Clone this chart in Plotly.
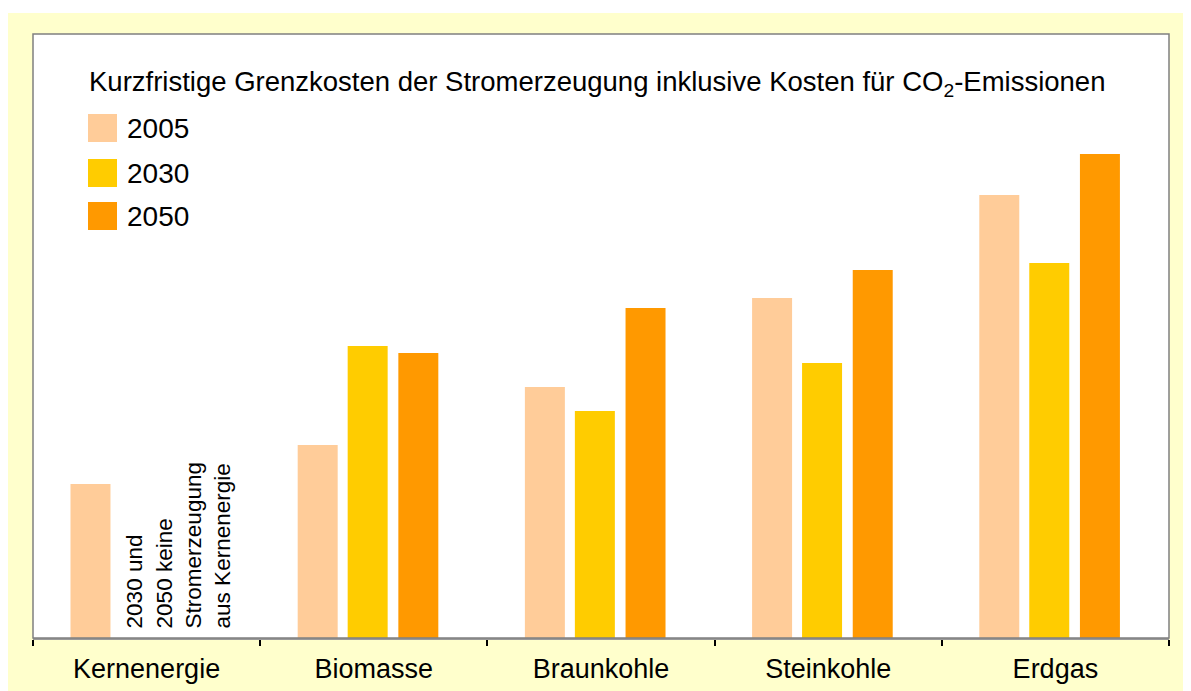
import plotly.graph_objects as go

categories = ["Kernenergie", "Biomasse", "Braunkohle", "Steinkohle", "Erdgas"]
years = ["2005", "2030", "2050"]
values_2005 = [15.4, 19.3, 25.1, 34.0, 44.3]
values_2030 = [None, 29.2, 22.7, 27.5, 37.5]
values_2050 = [None, 28.5, 33.0, 36.8, 48.4]
colors = ["#FFCC99", "#FFCC00", "#FF9900"]
title_text = "Kurzfristige Grenzkosten der Stromerzeugung inklusive Kosten für CO<sub>2</sub>-Emissionen"
note_text = "2030 und<br>2050 keine<br>Stromerzeugung<br>aus Kernenergie"

W, H = 1191, 691
OFF = 8  # page body margin
L, R, T, B = 33 - OFF, W - (1169 - OFF), 34 - OFF, H - (638 - OFF)
FONT = "Liberation Sans, Arial, sans-serif"

fig = go.Figure()
series = [values_2005, values_2030, values_2050]
offsets = [-0.335, -0.115, 0.108]
for yr, vals, col, off in zip(years, series, colors, offsets):
    fig.add_trace(go.Bar(x=categories, y=vals, name=yr, marker_color=col,
                         marker_line_width=0, width=0.176, offset=off,
                         showlegend=False))

pw = W - L - R
ph = H - T - B
def px(x):
    return (x - OFF - L) / pw
def py(y):
    return (H - B - (y - OFF)) / ph

shapes = []
# white strip above the yellow background
shapes.append(dict(type="rect", xref="paper", yref="paper", x0=px(0), x1=px(W + 20), y0=py(13), y1=py(0),
                   fillcolor="white", line_width=0, layer="below"))
# plot frame
shapes.append(dict(type="rect", xref="paper", yref="paper", x0=0, x1=1, y0=0, y1=1,
                   line=dict(color="#808080", width=1.5), fillcolor="rgba(0,0,0,0)", layer="above"))

annotations = [dict(text=title_text, xref="paper", yref="paper", x=px(87), y=py(84),
                    xanchor="left", yanchor="middle", showarrow=False,
                    font=dict(family=FONT, size=27.5, color="black"))]

leg_y = [128, 173, 216]
for yr, col, yc in zip(years, colors, leg_y):
    shapes.append(dict(type="rect", xref="paper", yref="paper", x0=px(88), x1=px(117),
                       y0=py(yc + 14), y1=py(yc - 14), fillcolor=col, line_width=0))
    annotations.append(dict(text=yr, xref="paper", yref="paper", x=px(125), y=py(yc),
                            xanchor="left", yanchor="middle", showarrow=False,
                            font=dict(family=FONT, size=28, color="black")))

annotations.append(dict(text=note_text, xref="x", yref="y", x=0.140, y=0.8,
                        xanchor="center", yanchor="bottom", textangle=-90, align="left",
                        showarrow=False, font=dict(family=FONT, size=22.5, color="black")))

fig.update_layout(
    width=W, height=H,
    margin=dict(l=L, r=R, t=T, b=B, pad=0),
    paper_bgcolor="#FFFFCC", plot_bgcolor="white",
    barmode="group",
    shapes=shapes, annotations=annotations,
    xaxis=dict(type="category", showgrid=False, showline=True, linecolor="#999999", linewidth=2,
               ticks="outside", tickson="boundaries", ticklen=6, tickcolor="black", tickwidth=1.5,
               tickfont=dict(family=FONT, size=27, color="black"), ticklabelstandoff=6,
               range=[-0.5, 4.5]),
    yaxis=dict(range=[0, 60.4], showgrid=False, showticklabels=False, zeroline=False,
               showline=False, ticks=""),
    font=dict(family=FONT),
)

fig.write_html("out.html")
